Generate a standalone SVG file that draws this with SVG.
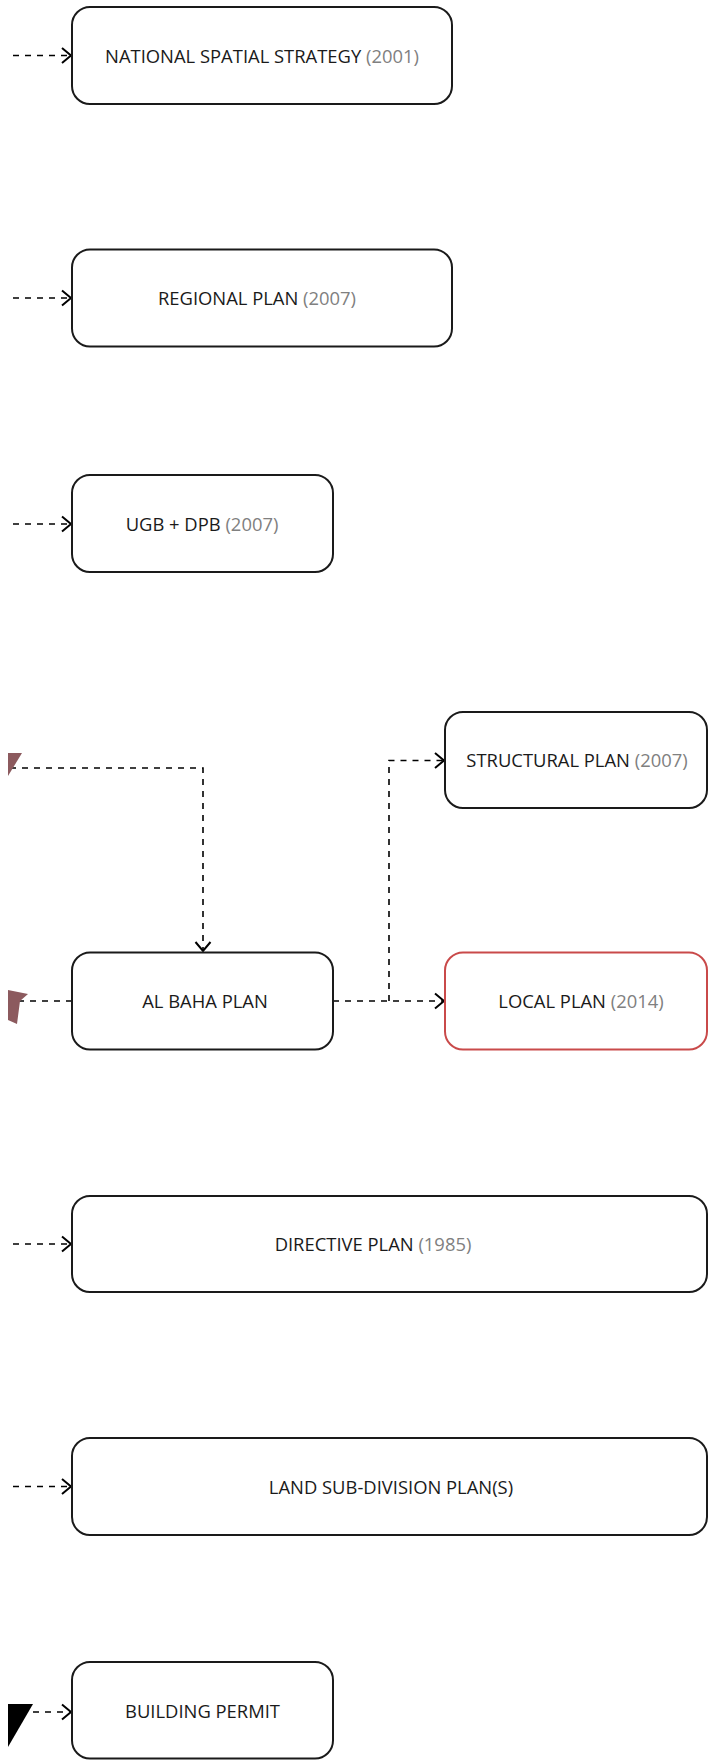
<svg xmlns="http://www.w3.org/2000/svg" width="709" height="1760" viewBox="0 0 709 1760">
<style>
.box{fill:#fff;stroke:#1a1a1a;stroke-width:2}
.red{stroke:#c94a4a}
.lbl{font-family:"Open Sans","Noto Sans",sans-serif;font-size:18.4px;fill:#1a1a1a;text-anchor:middle}
.yr{fill:#808080}
.con{fill:none;stroke:#000;stroke-width:1.6;stroke-dasharray:6 6}
</style>
<defs>
<marker id="arr" markerUnits="userSpaceOnUse" viewBox="-1 -1 12 18" refX="9" refY="7.5" markerWidth="12" markerHeight="18" orient="auto" overflow="visible">
<path d="M0,0 L9,7.5 L0,15" fill="none" stroke="#000" stroke-width="2"/>
</marker>
</defs>
<rect width="709" height="1760" fill="#fff"/>
<g id="connectors">
<path class="con" d="M13,55.5 H71" marker-end="url(#arr)"/>
<path class="con" d="M13,298 H71" marker-end="url(#arr)"/>
<path class="con" d="M13,524 H71" marker-end="url(#arr)"/>
<path class="con" d="M10,768 H203 V951" marker-end="url(#arr)"/>
<polygon points="8,753 22,753 8,776" fill="#8c5a5e"/>
<path class="con" d="M72,1001 H10"/>
<polygon points="8,990 28,994 20,1001 17,1024 8,1020" fill="#8c5a5e"/>
<path class="con" d="M333,1001 H444" marker-end="url(#arr)"/>
<path class="con" d="M389,1001 V760.5 H444" marker-end="url(#arr)"/>
<path class="con" d="M13,1244 H71" marker-end="url(#arr)"/>
<path class="con" d="M13,1486.5 H71" marker-end="url(#arr)"/>
<path class="con" d="M33,1712 H71" marker-end="url(#arr)"/>
<polygon points="8,1704 33,1704 8,1747" fill="#000"/>
</g>
<g id="n-national">
<rect class="box" x="72" y="7" width="380" height="97" rx="18"/>
<text class="lbl" x="262" y="62.5">NATIONAL SPATIAL STRATEGY <tspan class="yr">(2001)</tspan></text>
</g>
<g id="n-regional">
<rect class="box" x="72" y="249.5" width="380" height="97" rx="18"/>
<text class="lbl" x="257" y="305">REGIONAL PLAN <tspan class="yr">(2007)</tspan></text>
</g>
<g id="n-ugb">
<rect class="box" x="72" y="475" width="261" height="97" rx="18"/>
<text class="lbl" x="202" y="531">UGB + DPB <tspan class="yr">(2007)</tspan></text>
</g>
<g id="n-structural">
<rect class="box" x="445" y="712" width="262" height="96" rx="18"/>
<text class="lbl" x="577" y="767">STRUCTURAL PLAN <tspan class="yr">(2007)</tspan></text>
</g>
<g id="n-albaha">
<rect class="box" x="72" y="952.5" width="261" height="97" rx="18"/>
<text class="lbl" x="205" y="1008">AL BAHA PLAN</text>
</g>
<g id="n-local">
<rect class="box red" x="445" y="952.5" width="262" height="97" rx="18"/>
<text class="lbl" x="581" y="1008">LOCAL PLAN <tspan class="yr">(2014)</tspan></text>
</g>
<g id="n-directive">
<rect class="box" x="72" y="1196" width="635" height="96" rx="18"/>
<text class="lbl" x="373" y="1251">DIRECTIVE PLAN <tspan class="yr">(1985)</tspan></text>
</g>
<g id="n-land">
<rect class="box" x="72" y="1438" width="635" height="97" rx="18"/>
<text class="lbl" x="391" y="1493.5">LAND SUB-DIVISION PLAN(S)</text>
</g>
<g id="n-building">
<rect class="box" x="72" y="1662" width="261" height="96.5" rx="18"/>
<text class="lbl" x="202.5" y="1717.5">BUILDING PERMIT</text>
</g>
</svg>
